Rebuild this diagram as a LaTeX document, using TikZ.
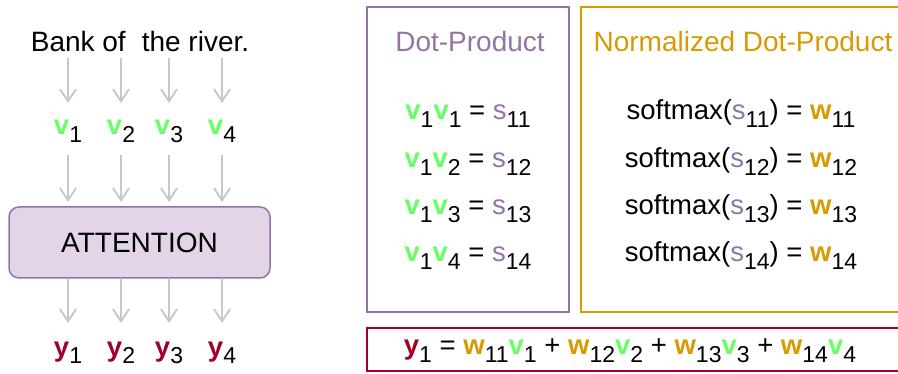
\documentclass[tikz,border=0pt]{standalone}
\usepackage{fontspec}
\setmainfont{Liberation Sans}
\usetikzlibrary{arrows.meta}

\definecolor{vgreen}{HTML}{66FF66}
\definecolor{worange}{HTML}{D79B00}
\definecolor{spurple}{HTML}{9673A6}
\definecolor{yred}{HTML}{A20025}
\definecolor{attfill}{HTML}{E1D5E7}
\definecolor{arrgrey}{HTML}{C8C8C8}

% lowered index and coloured symbols
\newcommand\lo[1]{\raisebox{-8pt}{\fontsize{23}{23}\selectfont #1}}
\newcommand\gv[1]{\textcolor{vgreen}{\textbf{v}}\lo{#1}}
\newcommand\ow[1]{\textcolor{worange}{\textbf{w}}\lo{#1}}
\newcommand\ps[1]{\textcolor{spurple}{s}\lo{#1}}
\newcommand\ry[1]{\textcolor{yred}{\textbf{y}}\lo{#1}}

\begin{document}
\begin{tikzpicture}[x=1pt, y=-1pt,
  every node/.style={inner sep=0pt, outer sep=0pt},
  big/.style={font=\fontsize{28}{32}\selectfont},
  eq/.style={font=\fontsize{27.5}{30}\selectfont, anchor=base},
  lab/.style={eq, text height=14pt, text depth=9pt},
  flow/.style={draw=arrgrey, line width=2pt,
    -{Straight Barb[length=12pt,width=16pt]}},
  panel/.style={draw, line width=2pt, fill=none}]
\useasboundingbox (0,0) rectangle (898,374);

% ---- left: sentence, embeddings, attention block, outputs
\node[big, anchor=base] (sent) at (140,52) {Bank of\hspace{16pt}the river.};

\foreach \i/\x in {1/68,2/121,3/169,4/222}{
  \node[lab] (v\i) at (\x,135) {\gv{\i}};
  \node[lab] (y\i) at (\x,356) {\ry{\i}};
}

\node[draw=spurple, fill=attfill, line width=1.5pt, rounded corners=10pt,
      minimum width=261pt, minimum height=71pt, big] (att) at (139.5,242.5) {ATTENTION};

\foreach \i in {1,2,3,4}{
  \draw[flow, shorten <=6pt, shorten >=18pt] (v\i |- sent.south) -- (v\i);
  \draw[flow, shorten <=11pt, shorten >=5pt] (v\i) -- (v\i |- att.north);
  \draw[flow, shorten >=19pt] (y\i |- att.south) -- (y\i);
}

% ---- dot-product panel
\node[panel, draw=spurple, minimum width=202pt, minimum height=305pt] (dotbox) at (468,159.5) {};
\node[big, anchor=base, text=spurple] (dottitle) at (470,52) {Dot-Product};
\node[eq] (d1) at (468,120) {\gv{1}\gv{1} = \ps{11}};
\node[eq] (d2) at (468,167.3) {\gv{1}\gv{2} = \ps{12}};
\node[eq] (d3) at (468,214.6) {\gv{1}\gv{3} = \ps{13}};
\node[eq] (d4) at (468,261.9) {\gv{1}\gv{4} = \ps{14}};

% ---- normalized dot-product panel
\node[panel, draw=worange, minimum width=329pt, minimum height=305pt] (normbox) at (745.5,159.5) {};
\node[big, anchor=base, text=worange] (normtitle) at (743,52) {Normalized Dot-Product};
\node[eq] (n1) at (741,120) {softmax(\ps{11}) = \ow{11}};
\node[eq] (n2) at (741,167.3) {softmax(\ps{12}) = \ow{12}};
\node[eq] (n3) at (741,214.6) {softmax(\ps{13}) = \ow{13}};
\node[eq] (n4) at (741,261.9) {softmax(\ps{14}) = \ow{14}};

% ---- weighted sum
\node[panel, draw=yred, minimum width=543pt, minimum height=43pt] (sumbox) at (638.5,349.5) {};
\node[eq] (sum) at (630,355)
  {\ry{1} = \ow{11}\gv{1} + \ow{12}\gv{2} + \ow{13}\gv{3} + \ow{14}\gv{4}};
\end{tikzpicture}
\end{document}
